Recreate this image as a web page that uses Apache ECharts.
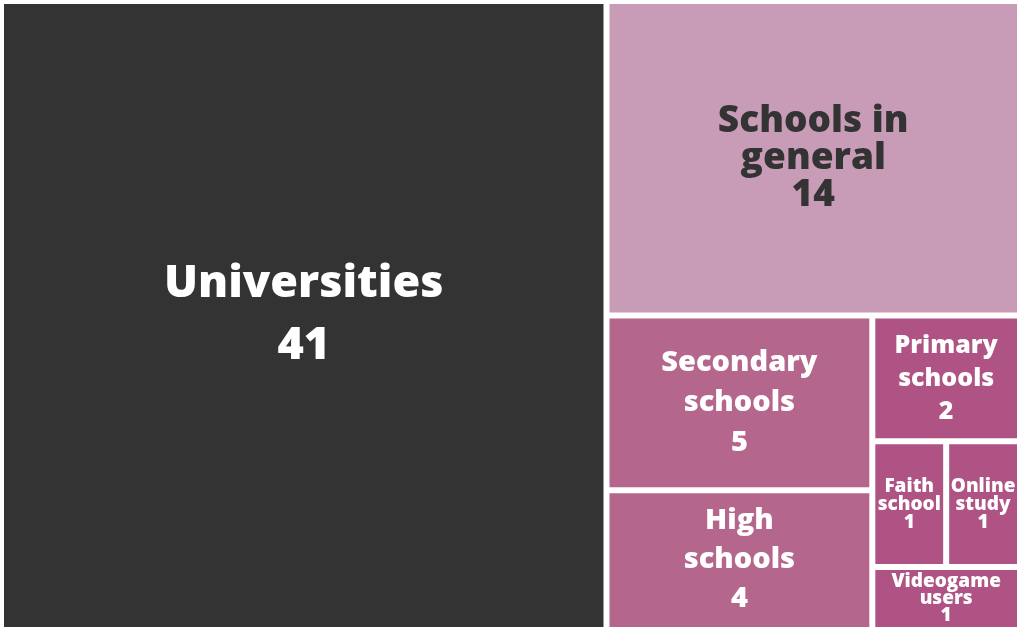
<!DOCTYPE html>
<html>
<head>
<meta charset="utf-8">
<script src="https://cdn.jsdelivr.net/npm/echarts@6/dist/echarts.min.js"></script>
<style>
  html, body { margin: 0; padding: 0; background: #fff; }
  #main { width: 1021px; height: 631px; }
</style>
</head>
<body>
<div id="main"></div>
<script>
// categories and counts
const names = ['Universities', 'Schools in\ngeneral', 'Secondary\nschools', 'High\nschools',
  'Primary\nschools', 'Faith\nschool', 'Online\nstudy', 'Videogame\nusers'];
const values = [41, 14, 5, 4, 2, 1, 1, 1];

// look of each tile
const fills = ['#333333', '#c89cb6', '#b5668c', '#b5668c', '#ae5383', '#ae5383', '#ae5383', '#ae5383'];
const fontSizes = [45, 37, 29, 29, 25, 19, 19, 19];
const lineHeights = [62, 37, 40, 39, 33, 18, 18, 17];

const chart = echarts.init(document.getElementById('main'));

let data = names.map((n, i) => {
  return {
    name: n,
    value: values[i],
    itemStyle: { color: fills[i] },
    label: {
      fontSize: fontSizes[i],
      lineHeight: lineHeights[i],
      color: i === 1 ? '#333333' : '#ffffff'
    }
  };
});

let option = {
  animation: false,
  series: [{
    type: 'treemap',
    left: 4,
    top: 4,
    width: 1013,
    height: 623,
    roam: false,
    nodeClick: false,
    sort: false,
    breadcrumb: { show: false },
    label: {
      show: true,
      position: 'inside',
      align: 'center',
      verticalAlign: 'middle',
      padding: 0,
      fontFamily: 'Open Sans',
      fontWeight: 800,
      overflow: 'none',
      formatter: '{b}\n{c}'
    },
    itemStyle: {
      borderWidth: 0,
      gapWidth: 6,
      borderColor: '#ffffff'
    },
    levels: [{ itemStyle: { borderWidth: 0, gapWidth: 6 } }],
    data: data
  }]
};

chart.setOption(option);
</script>
</body>
</html>
